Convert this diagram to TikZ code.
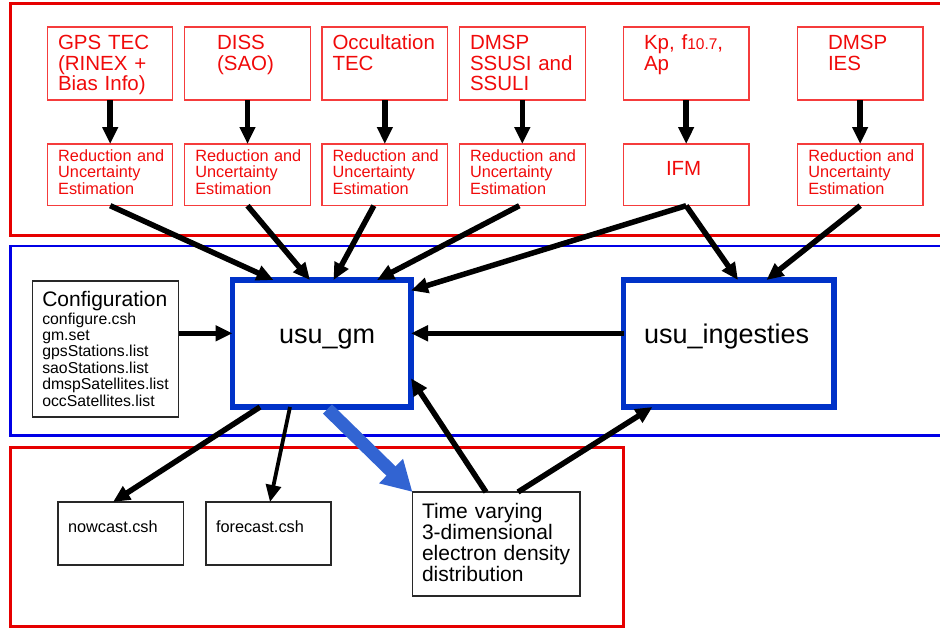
\documentclass[tikz,border=0pt]{standalone}
\usepackage{fontspec}
\setmainfont{Liberation Sans}
\usetikzlibrary{arrows.meta,calc}
\definecolor{cred}{RGB}{230,0,0}
\definecolor{bred}{RGB}{245,60,60}
\definecolor{tred}{RGB}{240,10,10}
\definecolor{cblue}{RGB}{0,0,230}
\definecolor{ublue}{RGB}{0,50,200}
\definecolor{ablue}{RGB}{50,100,210}
\definecolor{gbox}{RGB}{40,40,40}
\hyphenpenalty=10000
\exhyphenpenalty=10000
\lineskiplimit=-30pt
\begin{document}
\begin{tikzpicture}[x=1pt,y=-1pt,
  every node/.style={outer sep=0pt, inner ysep=0pt, anchor=north west, align=left},
  wd/.style n args={3}{minimum width=#1pt, inner xsep=#2pt, text width=#3pt},
  hd/.style n args={3}{minimum height=#1pt, text height=#2pt, text depth=#3pt},
  srcbox/.style={draw=bred, line width=1.3pt, text=tred, font=\fontsize{20.5}{20.7}\selectfont, hd={73}{22.3}{50.7}},
  redbox/.style={draw=bred, line width=1.3pt, text=tred, font=\fontsize{16.3}{16.2}\selectfont, hd={61.7}{17.7}{44}},
  progbox/.style={draw=ublue, line width=5.5pt, text=black, font=\fontsize{27}{27}\selectfont, hd={127}{63}{64}},
  filebox/.style={draw=gbox, line width=1.3pt, text=black},
  arr/.style={draw=black, line width=5.5pt, -{Triangle[length=17pt,width=15pt]}},
  barr/.style={draw=ablue, line width=13pt, -{Triangle[length=30pt,width=32pt]}}
]
\useasboundingbox (0,0) rectangle (940,630);
% containers
\begin{scope}
\clip (0,0) rectangle (940,630);
\draw[cred, line width=3pt] (10,3.3) rectangle (980,235.3);
\draw[cblue, line width=2.5pt] (10.3,246) rectangle (980,435.7);
\draw[cred, line width=3pt] (10,447.3) rectangle (623,626.7);
\end{scope}
% source boxes
\node[srcbox, wd={125}{10.3}{104.4}] (s1) at (47.7,27) {GPS~TEC\\(RINEX~+\\Bias~Info)};
\node[srcbox, wd={126.4}{32.7}{61}] (s2) at (184.3,27) {DISS\\(SAO)};
\node[srcbox, wd={125.7}{10.5}{104.7}] (s3) at (322,27) {Occultation\\TEC};
\node[srcbox, wd={126}{10.7}{104.6}] (s4) at (459.3,27) {DMSP\\SSUSI~and\\SSULI};
\node[srcbox, wd={125.7}{20.7}{84.3}] (s5) at (623.3,27) {Kp,~f{\fontsize{15.5}{15}\selectfont 10.7},\\Ap};
\node[srcbox, wd={125.7}{30.7}{64.3}] (s6) at (797.3,27) {DMSP\\IES};
% reduction boxes
\node[redbox, wd={125}{10.5}{104}] (r1) at (47.7,144) {Reduction~and\\Uncertainty\\Estimation};
\node[redbox, wd={126.4}{11}{104.4}] (r2) at (184.3,144) {Reduction~and\\Uncertainty\\Estimation};
\node[redbox, wd={125.7}{10.7}{104.3}] (r3) at (322,144) {Reduction~and\\Uncertainty\\Estimation};
\node[redbox, wd={126}{10.7}{104.6}] (r4) at (459.3,144) {Reduction~and\\Uncertainty\\Estimation};
\node[redbox, wd={125.7}{42.7}{40.3}, font=\fontsize{20.5}{20.7}\selectfont, hd={61.7}{31.7}{30}] (ifm) at (623.3,144) {IFM};
\node[redbox, wd={125.7}{11}{103.7}] (r6) at (797.3,144) {Reduction~and\\Uncertainty\\Estimation};
% middle
\node[filebox, wd={146}{9.6}{126.8}, hd={136}{25.7}{110.3}] (cfg) at (32.7,281)
  {{\fontsize{21}{21}\selectfont Configuration\par}\fontsize{15.8}{17.3}\selectfont configure.csh\par
   \fontsize{15.8}{16.4}\selectfont gm.set\par gpsStations.list\par saoStations.list\par dmspSatellites.list\par occSatellites.list\par};
\node[progbox, wd={178.5}{46.5}{85.5}] (gm) at (232.5,280) {\mbox{usu\_gm}};
\node[progbox, wd={210.5}{20.5}{169.5}] (ing) at (623.5,280) {\mbox{usu\_ingesties}};
% bottom
\node[filebox, font=\fontsize{16.3}{16.3}\selectfont, wd={125.5}{10}{105.5}, hd={63}{30}{33}] (now) at (58,502) {nowcast.csh};
\node[filebox, font=\fontsize{16.3}{16.3}\selectfont, wd={125}{10}{105}, hd={63}{30}{33}] (fc) at (206,502) {forecast.csh};
\node[filebox, font=\fontsize{21}{21.2}\selectfont, wd={167.5}{9.5}{148.5}, hd={104}{26}{78}] (tv) at (412.5,492) {Time~varying\\3-dimensional\\electron~density\\distribution};
% vertical arrows
\foreach \a/\b in {s1/r1,s2/r2,s3/r3,s4/r4,s5/ifm,s6/r6}
  \draw[arr] (\a.south) -- (\b.north);
% into usu_gm
\draw[arr] (r1.south) -- ($(gm.north west)+(41,0)$);
\draw[arr] (r2.south) -- ($(gm.north west)+(77.5,0)$);
\draw[arr] ($(r3.south)+(-11,0)$) -- ($(gm.north west)+(101,0)$);
\draw[arr] ($(r4.south)+(-3,0)$) -- ($(gm.north west)+(144.5,0)$);
\draw[arr] (ifm.south) -- ($(gm.north east)+(0,10.5)$);
\draw[arr] (ifm.south) -- ($(ing.north west)+(114.5,0)$);
\draw[arr] (r6.south) -- ($(ing.north west)+(143,0)$);
\draw[arr] ($(cfg.north east)+(0,52.3)$) -- ($(gm.north west)+(0,53.3)$);
\draw[arr] ($(ing.north west)+(0,53.3)$) -- ($(gm.north east)+(0,53.3)$);
\draw[arr] ($(tv.north west)+(73.5,0)$) -- ($(gm.north east)+(0,98.3)$);
\draw[arr] ($(tv.north west)+(105.5,0)$) -- ($(ing.south west)+(29,0)$);
\draw[arr] ($(gm.south west)+(27.5,0)$) -- ($(now.north west)+(55,0)$);
\draw[arr, line width=3.8pt] ($(gm.south west)+(57.5,0)$) -- ($(fc.north west)+(64,0)$);
\draw[barr] ($(gm.south west)+(95,2)$) -- (tv.north west);
\end{tikzpicture}
\end{document}
